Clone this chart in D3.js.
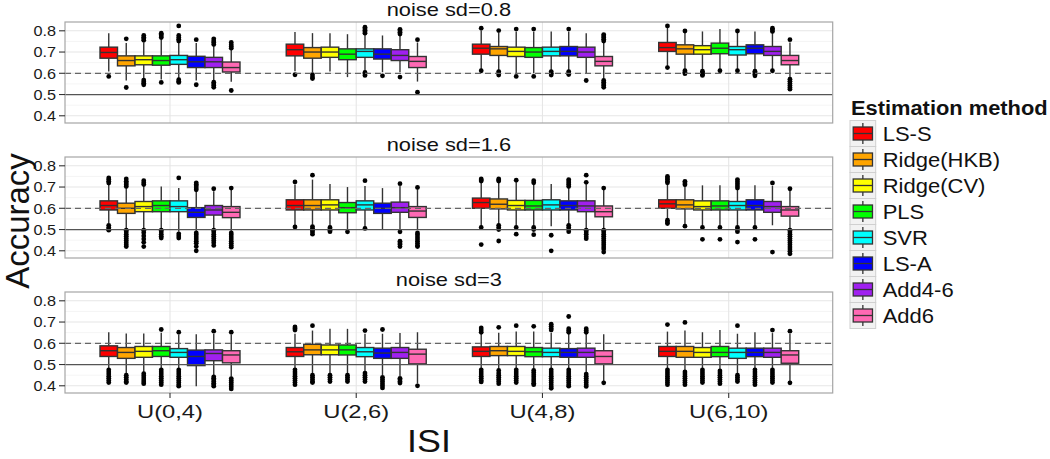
<!DOCTYPE html>
<html><head><meta charset="utf-8">
<script src="https://cdn.jsdelivr.net/npm/d3@7"></script>
<style>body{margin:0;background:#fff} svg text{font-family:"Liberation Sans",Arial,Helvetica,sans-serif}</style>
</head><body><svg id="c" width="1050" height="459"></svg>
<script>
const methods = ["LS-S","Ridge(HKB)","Ridge(CV)","PLS","SVR","LS-A","Add4-6","Add6"];
const colors = ["#FF0000","#FFA500","#FFFF00","#00FF00","#00FFFF","#0000FF","#A020F0","#FF69B4"];
const isi = ["U(0,4)","U(2,6)","U(4,8)","U(6,10)"];
const noiseLabels = ["noise sd=0.8","noise sd=1.6","noise sd=3"];
const yTicks = [0.4,0.5,0.6,0.7,0.8];
const yMinor = [0.45,0.55,0.65,0.75];
const refDashed = 0.6, refSolid = 0.5;

// box rows [lower whisker, q1, median, q3, upper whisker], ordered ISI x method
const box08 = [
[.608,.671,.698,.723,.789],[.566,.635,.660,.682,.742],[.575,.640,.664,.682,.745],[.571,.638,.660,.682,.760],
[.577,.642,.664,.684,.745],[.566,.627,.654,.680,.742],[.566,.627,.654,.675,.730],[.560,.606,.627,.653,.712],
[.610,.682,.711,.737,.794],[.605,.671,.700,.721,.789],[.608,.675,.700,.723,.789],[.582,.664,.690,.715,.784],
[.610,.675,.703,.715,.780],[.605,.667,.690,.715,.778],[.605,.660,.684,.711,.778],[.561,.627,.656,.679,.745],
[.620,.690,.718,.737,.800],[.616,.684,.715,.726,.790],[.600,.679,.703,.723,.795],[.600,.675,.700,.721,.795],
[.616,.682,.703,.723,.797],[.616,.682,.703,.726,.795],[.600,.675,.700,.723,.789],[.575,.635,.656,.679,.745],
[.632,.703,.721,.745,.815],[.618,.690,.715,.734,.790],[.616,.690,.711,.730,.797],[.620,.692,.718,.742,.808],
[.620,.686,.711,.726,.790],[.616,.692,.718,.734,.797],[.618,.684,.703,.726,.790],[.580,.640,.660,.684,.745]];
const out08 = [
[.585],[.762,.533],[.755,.762,.770,.778,.568,.560,.553,.546],[.768,.775,.782,.789,.557],
[.823,.752,.760,.768,.778,.570,.563,.557],[.758,.546],[.736,.745,.752,.762,.558,.550,.542,.534],[.718,.726,.734,.745,.519],
[.593],[.593,.582,.575],[],[],
[.789,.796,.803,.810,.817,.604,.598,.590],[.588],[.785,.793,.800,.807,.582],[.758,.511],
[.812,.612],[.801,.608,.600,.592],[.808,.585],[.808,.585],
[.608,.600,.592],[.808,.608,.600,.594],[.566],[.752,.760,.768,.776,.782,.566,.558,.550,.542,.534],
[.823,.627],[.799,.612,.605,.598],[.610,.603,.596,.590],[.612],
[.799,.612],[.610,.603,.596,.588],[.797,.805,.812,.612],[.758,.572,.562,.552,.542,.533,.525]];

const box16 = [
[.529,.592,.613,.635,.712],[.505,.576,.600,.624,.695],[.505,.584,.608,.632,.705],[.505,.584,.613,.635,.703],
[.490,.584,.608,.635,.695],[.490,.557,.581,.603,.680],[.500,.568,.592,.613,.680],[.490,.556,.581,.608,.687],
[.518,.592,.613,.640,.712],[.522,.592,.613,.640,.735],[.515,.592,.616,.640,.714],[.500,.579,.603,.627,.700],
[.510,.592,.616,.635,.705],[.500,.576,.600,.624,.695],[.500,.581,.603,.629,.705],[.500,.557,.587,.608,.690],
[.515,.600,.627,.648,.722],[.525,.597,.619,.644,.722],[.515,.592,.613,.637,.722],[.515,.592,.611,.637,.713],
[.515,.592,.616,.640,.714],[.525,.592,.613,.635,.697],[.503,.584,.611,.635,.713],[.503,.560,.584,.611,.687],
[.550,.600,.621,.640,.712],[.525,.597,.616,.640,.705],[.515,.592,.608,.635,.708],[.515,.592,.611,.635,.708],
[.515,.592,.613,.632,.690],[.515,.592,.613,.640,.708],[.520,.581,.608,.632,.705],[.503,.563,.592,.608,.687]];
const out16 = [
[.719,.727,.735,.743,.520,.510,.503,.497],[.703,.711,.719,.727,.738,.497,.488,.478,.468,.458,.448,.438,.428,.420],
[.712,.720,.730,.497,.485,.470,.455,.440,.420],[.497,.488,.478,.468,.460],
[.743,.480,.470,.460],[.687,.695,.705,.712,.720,.484,.475,.465,.455,.445,.435,.420,.400],
[.692,.497,.488,.478,.468,.458,.448,.438,.425],[.695,.484,.475,.465,.455,.445,.435,.425,.417],
[.724,.512],[.756,.514,.505,.497,.488,.478],[.510,.503,.497,.490],[.489],
[.730,.505],[],[.716,.489,.445,.437,.430,.420],[.698,.484,.475,.465,.455,.445,.435,.425,.420],
[.728,.733,.738,.510,.429],[.728,.733,.738,.520,.510,.500,.446],[.732,.510,.478],[.720,.730,.510,.500,.476],
[.473,.400],[.703,.712,.720,.728,.735,.520,.510,.500,.490],[.722,.756,.497,.488,.478,.466,.457],
[.695,.497,.488,.478,.468,.458,.448,.438,.428,.418,.408,.394],
[.720,.727,.735,.742,.750,.544,.536,.528],[.711,.719,.727,.516],[.510,.454],[.510,.454],
[.695,.705,.715,.725,.735,.510,.500,.490,.441],[.510,.454],[.719,.394],
[.692,.497,.488,.478,.468,.458,.448,.438,.428,.418,.408,.398,.386]];

const box3 = [
[.482,.538,.565,.588,.652],[.460,.529,.557,.580,.646],[.465,.534,.562,.585,.646],[.482,.538,.565,.585,.650],
[.482,.534,.557,.575,.640],[.398,.495,.538,.568,.642],[.450,.518,.552,.569,.645],[.442,.508,.545,.565,.640],
[.482,.538,.560,.580,.645],[.460,.546,.569,.595,.660],[.460,.546,.569,.592,.668],[.460,.545,.569,.592,.668],
[.468,.537,.560,.580,.645],[.450,.529,.554,.577,.645],[.445,.529,.557,.580,.648],[.410,.503,.549,.572,.652],
[.482,.538,.562,.583,.645],[.480,.542,.565,.585,.650],[.482,.542,.562,.585,.655],[.480,.537,.560,.580,.655],
[.482,.537,.557,.577,.648],[.482,.534,.557,.575,.645],[.462,.534,.557,.577,.645],[.420,.503,.538,.565,.642],
[.482,.538,.562,.585,.655],[.472,.534,.562,.585,.660],[.482,.534,.557,.580,.652],[.478,.537,.557,.585,.662],
[.458,.529,.557,.577,.645],[.482,.537,.557,.577,.652],[.482,.534,.557,.577,.648],[.420,.506,.545,.565,.645]];
const out3 = [
[.475,.465,.455,.445,.435,.425,.415],[.450,.440,.430,.420,.415],[.457,.447,.437,.427,.418,.410],
[.665,.475,.465,.455,.445,.435,.425,.415,.405],[.652,.475,.465,.455,.445,.435,.425,.415,.405,.398],[],
[.657,.442,.435,.428,.420,.412,.405,.398],[.652,.434,.425,.415,.405,.395,.385],
[.677,.670,.662,.475,.465,.455,.445,.435,.425,.415,.405],[.683,.450,.440,.430,.420,.415],[.450,.440,.430,.420],[.450,.440,.430,.420],
[.660,.460,.450,.440,.430,.420],[.665,.440,.430,.420,.410,.400,.390],[.435,.428,.420,.413],[.400],
[.672,.662,.652,.475,.465,.455,.445,.435,.425,.418],[.675,.472,.460,.450,.440,.430,.420,.410],
[.683,.475,.465,.455,.445,.435,.425,.415],[.680,.472,.462,.452,.442,.432,.422,.412,.405],
[.690,.680,.670,.662,.475,.465,.455,.445,.435,.425,.415,.405,.395,.388],
[.726,.669,.660,.652,.475,.465,.455,.445,.435,.425,.415,.405,.398],
[.669,.660,.652,.455,.445,.435,.425,.415,.405,.397],[.414],
[.688,.475,.465,.455,.445,.435,.425,.415,.405],[.698,.465,.455,.445,.435,.425,.415,.405],
[.475,.465,.455,.445,.435,.425,.415],[.470,.460,.450,.440,.430,.420,.410],
[.683,.450,.440,.430,.420],[.475,.465,.455,.445,.435,.425,.415,.405],
[.662,.475,.465,.455,.445,.435,.425,.415],[.657,.414]];

const panels = [{box: box08, out: out08}, {box: box16, out: out16}, {box: box3, out: out3}];

const svg = d3.select("#c");
const L = 65, R = 832.7, PH = 101;
const tops = [22, 157, 292];
const x = d3.scalePoint().domain(isi).range([170, 728.7]);
const xm = d3.scaleBand().domain(methods).range([-70, 70]).padding(0);
const color = d3.scaleOrdinal().domain(methods).range(colors);

function stretch(sel, f) {
  sel.each(function () {
    const w = this.getComputedTextLength();
    this.setAttribute("textLength", w * f);
    this.setAttribute("lengthAdjust", "spacingAndGlyphs");
  });
}

panels.forEach((p, pi) => {
  const top = tops[pi];
  const y = d3.scaleLinear().domain([0.366, 0.8414]).range([top + PH, top]);
  const g = svg.append("g");
  g.selectAll(".mn").data(yMinor).join("line")
    .attr("x1", L).attr("x2", R).attr("y1", d => y(d)).attr("y2", d => y(d))
    .attr("stroke", "#f5f5f5").attr("stroke-width", 1);
  g.selectAll(".mj").data(yTicks).join("line")
    .attr("x1", L).attr("x2", R).attr("y1", d => y(d)).attr("y2", d => y(d))
    .attr("stroke", "#e6e6e6").attr("stroke-width", 1.1);
  g.selectAll(".vx").data(isi).join("line")
    .attr("x1", d => x(d)).attr("x2", d => x(d)).attr("y1", top).attr("y2", top + PH)
    .attr("stroke", "#e6e6e6").attr("stroke-width", 1.1);

  const rows = [];
  isi.forEach((c, ci) => methods.forEach((m, mi) => {
    const k = ci * methods.length + mi;
    rows.push({c, m, s: p.box[k], o: p.out[k]});
  }));
  const bw = xm.bandwidth();
  const bg = g.selectAll(".bx").data(rows).join("g")
    .attr("transform", d => `translate(${x(d.c) + xm(d.m)},0)`);
  bg.append("line").attr("x1", bw / 2).attr("x2", bw / 2)
    .attr("y1", d => y(d.s[4])).attr("y2", d => y(d.s[3]))
    .attr("stroke", "#333").attr("stroke-width", 1.4);
  bg.append("line").attr("x1", bw / 2).attr("x2", bw / 2)
    .attr("y1", d => y(d.s[1])).attr("y2", d => y(d.s[0]))
    .attr("stroke", "#333").attr("stroke-width", 1.4);
  bg.append("rect").attr("x", 0).attr("width", bw)
    .attr("y", d => y(d.s[3])).attr("height", d => y(d.s[1]) - y(d.s[3]))
    .attr("fill", d => color(d.m)).attr("stroke", "#333").attr("stroke-width", 1.4);
  bg.append("line").attr("x1", 0).attr("x2", bw)
    .attr("y1", d => y(d.s[2])).attr("y2", d => y(d.s[2]))
    .attr("stroke", "#333").attr("stroke-width", 1.4);

  g.append("line").attr("x1", L).attr("x2", R).attr("y1", y(refDashed)).attr("y2", y(refDashed))
    .attr("stroke", "#666").attr("stroke-width", 1.3).attr("stroke-dasharray", "6,4");
  g.append("line").attr("x1", L).attr("x2", R).attr("y1", y(refSolid)).attr("y2", y(refSolid))
    .attr("stroke", "#555").attr("stroke-width", 1.3);

  bg.selectAll("circle").data(d => d.o).join("circle")
    .attr("cx", bw / 2).attr("cy", v => y(v)).attr("r", 2.4).attr("fill", "#000");

  g.append("rect").attr("x", L).attr("y", top).attr("width", R - L).attr("height", PH)
    .attr("fill", "none").attr("stroke", "#a6a6a6").attr("stroke-width", 1.2);

  const ya = g.append("g");
  ya.selectAll("line").data(yTicks).join("line")
    .attr("x1", L - 6).attr("x2", L).attr("y1", d => y(d)).attr("y2", d => y(d))
    .attr("stroke", "#333").attr("stroke-width", 1.1);
  const yl = ya.selectAll("text").data(yTicks).join("text")
    .attr("x", L - 9).attr("y", d => y(d)).attr("dy", "0.36em")
    .attr("text-anchor", "end").attr("font-size", 14.5).attr("fill", "#1a1a1a")
    .text(d => d3.format(".1f")(d));
  stretch(yl, 1.12);

  const st = g.append("text").attr("x", (L + R) / 2).attr("y", top - 6)
    .attr("text-anchor", "middle").attr("font-size", 18.5).attr("fill", "#111")
    .text(noiseLabels[pi]);
  stretch(st, 1.18);

  if (pi === 2) {
    g.selectAll(".xt").data(isi).join("line")
      .attr("x1", d => x(d)).attr("x2", d => x(d)).attr("y1", top + PH).attr("y2", top + PH + 5)
      .attr("stroke", "#333").attr("stroke-width", 1.1);
    const xl = g.selectAll(".xl").data(isi).join("text")
      .attr("x", d => x(d)).attr("y", top + PH + 25)
      .attr("text-anchor", "middle").attr("font-size", 19).attr("fill", "#1a1a1a")
      .text(d => d);
    stretch(xl, 1.25);
  }
});

const xt = svg.append("text").attr("x", 429).attr("y", 452)
  .attr("text-anchor", "middle").attr("font-size", 32).attr("fill", "#111").text("ISI");
stretch(xt, 1.12);
svg.append("text").attr("transform", `translate(29,221) rotate(-90)`)
  .attr("text-anchor", "middle").attr("font-size", 33).attr("fill", "#111").text("Accuracy");

const lg = svg.append("g");
const lt = lg.append("text").attr("x", 851).attr("y", 115).attr("font-size", 19.5)
  .attr("font-weight", "bold").attr("fill", "#111").text("Estimation method");
stretch(lt, 1.12);
const kw = 25.7, kh = 26, k0 = 120.5, kx = 850;
const ky = d3.scaleBand().domain(methods).range([k0, k0 + kh * methods.length]);
const kg = lg.selectAll(".k").data(methods).join("g")
  .attr("transform", d => `translate(${kx},${ky(d)})`);
kg.append("rect").attr("width", kw).attr("height", kh).attr("fill", "#f2f2f2")
  .attr("stroke", "#d0d0d0").attr("stroke-width", 1);
kg.append("line").attr("x1", kw / 2).attr("x2", kw / 2).attr("y1", kh * 0.1).attr("y2", kh * 0.9)
  .attr("stroke", "#333").attr("stroke-width", 1.3);
kg.append("rect").attr("x", kw * 0.125).attr("width", kw * 0.75).attr("y", kh * 0.25).attr("height", kh * 0.5)
  .attr("fill", d => color(d)).attr("stroke", "#333").attr("stroke-width", 1.3);
kg.append("line").attr("x1", kw * 0.125).attr("x2", kw * 0.875).attr("y1", kh / 2).attr("y2", kh / 2)
  .attr("stroke", "#333").attr("stroke-width", 1.3);
const ll = kg.append("text").attr("x", kw + 7).attr("y", kh / 2).attr("dy", "0.36em")
  .attr("font-size", 20).attr("fill", "#111").text(d => d);
stretch(ll, 1.1);
</script></body></html>
